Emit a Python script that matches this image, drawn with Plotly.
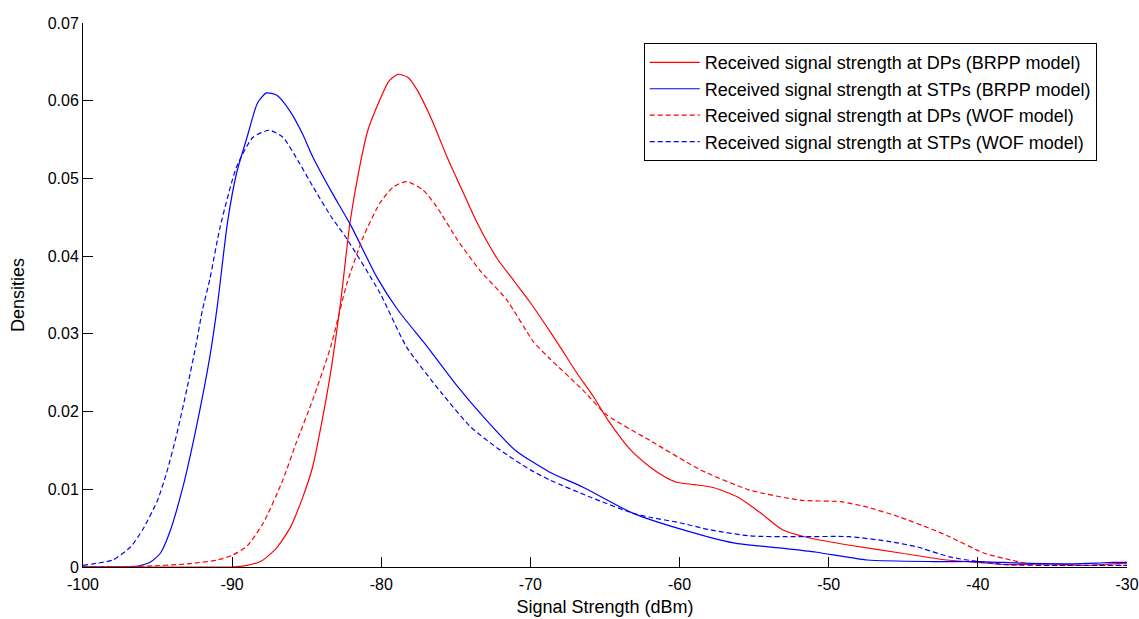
import plotly.graph_objects as go

# Red solid: Received signal strength at DPs (BRPP model)
dp_brpp_x = [-100, -95, -90, -89, -88, -87, -86.1, -85.3, -84.6, -84, -83.4, -82.7, -82.1, -81.5, -80.9, -80.1,
             -79.5, -78.9, -78.2, -77.6, -76.6, -75.6, -74.7, -73.8, -73, -72.2, -71.1, -70, -69, -68, -66.9,
             -65.8, -64.8, -63.3, -62, -61, -60.2, -59, -57.7, -56.1, -54.6, -53.1, -51.2, -48.6, -45.2, -42.1,
             -40, -38, -35, -33, -31, -30]
dp_brpp_y = [0, 0, 0, 0.0002, 0.0008, 0.0025, 0.0051, 0.0088, 0.0129, 0.0185, 0.0250, 0.0345, 0.0443, 0.0510,
             0.0562, 0.0601, 0.0625, 0.0634, 0.0630, 0.0614, 0.0575, 0.0528, 0.0490, 0.0452, 0.0422, 0.0396,
             0.0368, 0.0340, 0.0312, 0.0283, 0.0250, 0.0220, 0.0189, 0.0151, 0.0129, 0.0116, 0.0109, 0.0106,
             0.0102, 0.0090, 0.0070, 0.0048, 0.0037, 0.0028, 0.0018, 0.0009, 0.0006, 0.0003, 0.0004, 0.0002,
             0.0004, 0.0005]

# Blue solid: Received signal strength at STPs (BRPP model)
stp_brpp_x = [-100, -97, -96.4, -95.5, -94.8, -94.2, -93.3, -92.4, -91.5, -91.0, -90.3, -89.7, -89.0, -88.3,
              -87.7, -87.0, -86.1, -85.3, -84.6, -83.4, -82.0, -80.3, -78.9, -76.9, -75, -73, -71, -68.7, -66.5,
              -63.1, -59.8, -56.4, -53, -50.8, -47.4, -43, -40, -37, -34, -32, -31, -30]
stp_brpp_y = [0, 0, 0.0001, 0.0006, 0.0018, 0.0044, 0.0103, 0.0180, 0.0270, 0.0335, 0.0445, 0.0507, 0.0553,
              0.0597, 0.0610, 0.0607, 0.0586, 0.0558, 0.0528, 0.0485, 0.0438, 0.0373, 0.0331, 0.0283, 0.0235,
              0.0190, 0.0150, 0.0122, 0.0103, 0.0069, 0.0048, 0.0031, 0.0024, 0.0019, 0.0009, 0.0007, 0.0007,
              0.0005, 0.0004, 0.0005, 0.0006, 0.0006]

# Red dashed: Received signal strength at DPs (WOF model)
dp_wof_x = [-100, -96, -93, -91, -90, -89.0, -87.9, -86.6, -85.7, -84.6, -83.4, -82.3, -81.2, -80.1, -79.2, -78.3,
            -77.2, -76.3, -74.9, -73.4, -71.6, -69.8, -68.7, -66.5, -64.9, -62, -58.6, -55.3, -51.9, -49.2, -47.4,
            -45.2, -43, -41.9, -39.6, -37.8, -36.3, -34, -30]
dp_wof_y = [0, 0.0001, 0.0004, 0.0009, 0.0015, 0.0027, 0.0057, 0.0112, 0.0160, 0.0215, 0.0283, 0.0365, 0.0425,
            0.0468, 0.0489, 0.0496, 0.0485, 0.0464, 0.0421, 0.0382, 0.0344, 0.0290, 0.0268, 0.0228, 0.0196,
            0.0163, 0.0125, 0.0099, 0.0086, 0.0084, 0.0077, 0.0064, 0.0048, 0.0039, 0.0018, 0.0009, 0.0003,
            0.0002, 0.0002]

# Blue dashed: Received signal strength at STPs (WOF model)
stp_wof_x = [-100, -99, -98, -96.8, -96.0, -95.0, -94.4, -93.7, -93.0, -92.4, -92.0, -91.5, -90.8, -89.7, -88.6,
             -87.5, -86.6, -85.5, -84.6, -83.4, -82.3, -80.1, -78.3, -76, -74, -72, -70, -68.7, -66, -63.1, -62,
             -60, -58, -55.3, -52, -48.6, -46, -44.1, -41.9, -40, -38, -35, -32, -30]
stp_wof_y = [0.0002, 0.0005, 0.0009, 0.0026, 0.0048, 0.0086, 0.0121, 0.0172, 0.0232, 0.0288, 0.0330, 0.0370,
             0.0438, 0.0515, 0.0553, 0.0562, 0.0553, 0.0520, 0.0490, 0.0452, 0.0422, 0.0353, 0.0283, 0.0225,
             0.0180, 0.0150, 0.0125, 0.0112, 0.0090, 0.0069, 0.0064, 0.0057, 0.0048, 0.0040, 0.0039, 0.0039,
             0.0033, 0.0026, 0.0013, 0.0007, 0.0003, 0.0002, 0.0002, 0.0002]

x_tick_vals = [-100, -90, -80, -70, -60, -50, -40, -30]
x_tick_text = ["-100", "-90", "-80", "-70", "-60", "-50", "-40", "-30"]
y_tick_vals = [0, 0.01, 0.02, 0.03, 0.04, 0.05, 0.06, 0.07]
y_tick_text = ["0", "0.01", "0.02", "0.03", "0.04", "0.05", "0.06", "0.07"]

series = [
    ("Received signal strength at DPs (BRPP model)", dp_brpp_x, dp_brpp_y, "#ff0000", "solid"),
    ("Received signal strength at STPs (BRPP model)", stp_brpp_x, stp_brpp_y, "#0000ff", "solid"),
    ("Received signal strength at DPs (WOF model)", dp_wof_x, dp_wof_y, "#ff0000", "5px,3px"),
    ("Received signal strength at STPs (WOF model)", stp_wof_x, stp_wof_y, "#0000ff", "5px,3px"),
]

FONT = "Liberation Sans, Arial, sans-serif"

fig = go.Figure()
for name, xs, ys, color, dash in series:
    fig.add_trace(go.Scatter(x=xs, y=ys, mode="lines", name=name,
                             line=dict(color=color, width=1.2, dash=dash, shape="spline", smoothing=0.6)))

fig.update_layout(
    width=1139, height=619,
    margin=dict(l=83, r=12, t=23, b=52),
    paper_bgcolor="white", plot_bgcolor="white",
    font=dict(family=FONT, size=16, color="#000000"),
    showlegend=True,
    legend=dict(x=0.971, y=0.963, xanchor="right", yanchor="top",
                bgcolor="white", bordercolor="#000000", borderwidth=1,
                font=dict(family=FONT, size=18, color="#000000"),
                itemwidth=50, tracegroupgap=0),
    xaxis=dict(range=[-100, -30], tickvals=x_tick_vals, ticktext=x_tick_text,
               showline=True, linecolor="#000000", linewidth=1, mirror=False, automargin=False,
               ticks="inside", ticklen=10, tickcolor="#000000", showgrid=False, zeroline=False,
               tickfont=dict(size=16), ticklabelstandoff=3,
               title=dict(text="Signal Strength (dBm)", font=dict(size=18), standoff=8)),
    yaxis=dict(range=[0, 0.07], tickvals=y_tick_vals, ticktext=y_tick_text,
               showline=True, linecolor="#000000", linewidth=1, mirror=False, automargin=False,
               ticks="inside", ticklen=10, tickcolor="#000000", showgrid=False, zeroline=False,
               tickfont=dict(size=16),
               title=dict(text="Densities", font=dict(size=18), standoff=18)),
)

fig.write_html("out.html", config={"displayModeBar": False})
